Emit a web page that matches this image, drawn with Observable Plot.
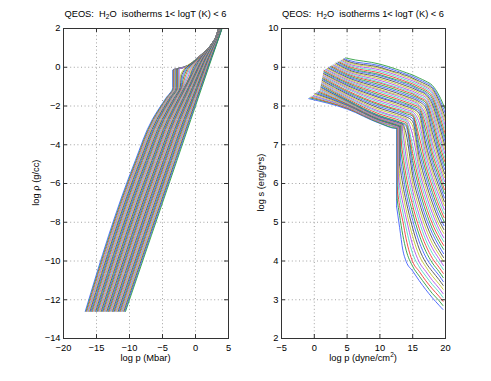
<!DOCTYPE html>
<html><head><meta charset="utf-8">
<script src="https://cdn.jsdelivr.net/npm/d3@7"></script>
<script src="https://cdn.jsdelivr.net/npm/@observablehq/plot@0.6"></script>
<style>
body{margin:0;background:#fff;}
#fig{position:relative;width:491px;height:381px;background:#fff;font-family:"Liberation Sans",Arial,Helvetica,sans-serif;color:#000;overflow:hidden;}
.t{position:absolute;font-size:9.3px;white-space:pre;text-align:center;line-height:1;}
.t sub{font-size:6.5px;vertical-align:-2px;line-height:0;}
.t sup{font-size:6.5px;vertical-align:4px;line-height:0;}
.p{position:absolute;top:0;}
</style></head><body><div id="fig"></div>
<script>
// ---------------- data ----------------
const logT = [1.0,1.1,1.2,1.3,1.4,1.5,1.6,1.7,1.8,1.9,2.0,2.1,2.2,2.3,2.4,2.5,2.6,2.7,2.8,2.9,3.0,3.1,3.2,3.3,3.4,3.5,3.6,3.7,3.8,3.9,4.0,4.1,4.2,4.3,4.4,4.5,4.6,4.7,4.8,4.9,5.0,5.1,5.2,5.3,5.4,5.5,5.6,5.7,5.8,5.9,6.0];
const colorOrder = ["#3f5fff","#2e9e3e","#f03a3a","#4fd8c0","#b050e8","#c4c830","#505050"];

// left panel: log p (Mbar) of each isotherm at these log rho levels
const rhoLevels = [-12.6,-4.8,-2.7,-1.6,-1.05,-0.5,0,0.5,1.1,1.6,2.0];
const pA = [-16.70,-16.58,-16.46,-16.33,-16.21,-16.09,-15.97,-15.85,-15.72,-15.60,-15.48,-15.36,-15.24,-15.11,-14.99,-14.87,-14.75,-14.63,-14.50,-14.38,-14.26,-14.14,-14.02,-13.89,-13.77,-13.65,-13.53,-13.41,-13.28,-13.16,-13.04,-12.92,-12.80,-12.67,-12.55,-12.43,-12.31,-12.19,-12.06,-11.94,-11.82,-11.70,-11.58,-11.45,-11.33,-11.21,-11.09,-10.97,-10.84,-10.72,-10.60];
const pB = [-9.10,-8.97,-8.85,-8.72,-8.60,-8.47,-8.34,-8.22,-8.09,-7.97,-7.84,-7.71,-7.59,-7.46,-7.34,-7.21,-7.08,-6.96,-6.83,-6.71,-6.58,-6.45,-6.33,-6.20,-6.08,-5.95,-5.82,-5.70,-5.57,-5.45,-5.32,-5.19,-5.07,-4.94,-4.82,-4.69,-4.56,-4.44,-4.31,-4.19,-4.06,-3.93,-3.81,-3.68,-3.56,-3.43,-3.30,-3.18,-3.05,-2.93,-2.80];
const pC = [-6.55,-6.43,-6.32,-6.20,-6.08,-5.97,-5.85,-5.73,-5.61,-5.50,-5.38,-5.26,-5.15,-5.03,-4.91,-4.80,-4.68,-4.56,-4.44,-4.33,-4.21,-4.09,-3.98,-3.86,-3.74,-3.63,-3.51,-3.39,-3.27,-3.16,-3.04,-2.92,-2.81,-2.69,-2.57,-2.46,-2.34,-2.22,-2.10,-1.99,-1.87,-1.75,-1.64,-1.52,-1.40,-1.29,-1.17,-1.05,-0.93,-0.82,-0.70];
const pD = [-4.50,-4.40,-4.30,-4.21,-4.11,-4.01,-3.91,-3.81,-3.72,-3.62,-3.52,-3.42,-3.32,-3.23,-3.13,-3.03,-2.93,-2.83,-2.74,-2.64,-2.54,-2.44,-2.34,-2.25,-2.15,-2.05,-1.95,-1.85,-1.76,-1.66,-1.56,-1.46,-1.36,-1.27,-1.17,-1.07,-0.97,-0.87,-0.78,-0.68,-0.58,-0.48,-0.38,-0.29,-0.19,-0.09,0.01,0.11,0.20,0.30,0.40];
const pE = [-3.45,-3.36,-3.27,-3.19,-3.10,-3.01,-2.92,-2.83,-2.75,-2.66,-2.57,-2.48,-2.39,-2.31,-2.22,-2.13,-2.04,-1.95,-1.87,-1.78,-1.69,-1.60,-1.51,-1.43,-1.34,-1.25,-1.16,-1.07,-0.99,-0.90,-0.81,-0.72,-0.63,-0.55,-0.46,-0.37,-0.28,-0.19,-0.11,-0.02,0.07,0.16,0.25,0.33,0.42,0.51,0.60,0.69,0.77,0.86,0.95];
const pF = [null,null,null,null,null,null,null,null,null,null,null,null,-2.31,-2.15,-1.97,-1.78,-1.58,-1.37,-1.15,-0.96,-0.86,-0.78,-0.70,-0.62,-0.54,-0.46,-0.39,-0.31,-0.23,-0.15,-0.07,0.01,0.09,0.16,0.24,0.32,0.40,0.48,0.56,0.64,0.71,0.79,0.87,0.95,1.03,1.11,1.19,1.26,1.34,1.42,1.50];
const pG = [-1.90,-1.87,-1.84,-1.81,-1.78,-1.75,-1.72,-1.69,-1.66,-1.63,-1.60,-1.57,-1.50,-1.35,-1.19,-1.04,-0.88,-0.73,-0.58,-0.44,-0.29,-0.15,-0.02,0.08,0.16,0.25,0.32,0.39,0.46,0.53,0.60,0.67,0.74,0.81,0.88,0.95,1.02,1.09,1.16,1.23,1.30,1.37,1.44,1.51,1.58,1.65,1.72,1.79,1.86,1.93,2.00];
const pH = [0.30,0.32,0.34,0.36,0.38,0.40,0.42,0.44,0.46,0.48,0.50,0.52,0.53,0.56,0.60,0.63,0.66,0.70,0.73,0.77,0.80,0.85,0.90,0.94,0.99,1.04,1.09,1.15,1.20,1.26,1.31,1.37,1.43,1.49,1.55,1.60,1.66,1.72,1.78,1.84,1.90,1.96,2.02,2.08,2.14,2.20,2.26,2.32,2.38,2.44,2.50];
const pI = [2.20,2.20,2.21,2.21,2.22,2.22,2.22,2.23,2.23,2.23,2.24,2.24,2.24,2.24,2.25,2.25,2.26,2.27,2.28,2.28,2.29,2.30,2.31,2.32,2.33,2.34,2.35,2.37,2.38,2.40,2.42,2.44,2.46,2.49,2.52,2.55,2.58,2.62,2.65,2.69,2.73,2.77,2.81,2.85,2.89,2.93,2.97,3.01,3.05,3.08,3.12];
const pJ = [3.12,3.12,3.12,3.12,3.12,3.13,3.13,3.13,3.13,3.13,3.13,3.13,3.13,3.14,3.14,3.15,3.15,3.16,3.16,3.17,3.17,3.18,3.18,3.19,3.20,3.20,3.21,3.22,3.23,3.24,3.25,3.26,3.28,3.29,3.31,3.32,3.34,3.36,3.39,3.41,3.44,3.46,3.49,3.51,3.53,3.56,3.57,3.58,3.60,3.61,3.62];
const pK = [3.43,3.43,3.43,3.44,3.44,3.44,3.45,3.45,3.45,3.46,3.46,3.46,3.47,3.47,3.48,3.49,3.50,3.50,3.51,3.52,3.53,3.54,3.55,3.56,3.57,3.58,3.59,3.60,3.62,3.63,3.64,3.66,3.68,3.69,3.71,3.73,3.75,3.77,3.79,3.81,3.83,3.86,3.88,3.91,3.93,3.96,3.97,3.98,3.99,4.00,4.02];
// liquid density reached at the phase jump (isotherms with a jump)
const jumpTopRho = [-0.14,-0.14,-0.13,-0.13,-0.12,-0.12,-0.11,-0.11,-0.10,-0.10,-0.09,-0.09];

// right panel: log s versus log p (dyne/cm2)
const rStartP = [-0.84,-0.67,-0.49,-0.32,-0.14,0.03,0.20,0.38,0.55,0.73,0.90,0.93,0.96,0.99,1.02,1.05,1.08,1.11,1.14,1.17,1.20,1.23,1.26,1.29,1.32,1.35,1.38,1.41,1.44,1.47,1.50,1.66,1.83,1.99,2.15,2.32,2.48,2.64,2.80,2.97,3.13,3.29,3.46,3.62,3.78,3.95,4.11,4.27,4.43,4.60,4.76];
const rStartS = [8.19,8.21,8.23,8.25,8.27,8.30,8.32,8.34,8.36,8.38,8.40,8.43,8.45,8.48,8.50,8.53,8.56,8.58,8.61,8.63,8.66,8.69,8.71,8.74,8.76,8.79,8.82,8.84,8.87,8.89,8.92,8.94,8.95,8.97,8.98,9.00,9.02,9.03,9.05,9.06,9.08,9.10,9.11,9.13,9.14,9.16,9.18,9.19,9.21,9.22,9.24];
const gridP = [5,10,12.5,13,13.5,14,15,16,17,18,19];
const rS5 = [7.92,7.94,7.95,7.97,7.98,8.00,8.02,8.03,8.05,8.06,8.08,8.10,8.11,8.13,8.14,8.16,8.19,8.22,8.25,8.28,8.31,8.34,8.37,8.40,8.44,8.47,8.50,8.53,8.56,8.59,8.62,8.65,8.68,8.71,8.74,8.77,8.80,8.83,8.86,8.89,8.92,8.95,8.98,9.01,9.04,9.07,9.10,9.13,9.16,9.19,9.23];
const rS10 = [7.55,7.56,7.58,7.59,7.60,7.62,7.63,7.64,7.65,7.67,7.68,7.69,7.71,7.72,7.73,7.75,7.79,7.83,7.86,7.90,7.94,7.98,8.02,8.05,8.09,8.13,8.17,8.21,8.24,8.28,8.32,8.36,8.40,8.43,8.47,8.51,8.55,8.59,8.62,8.66,8.70,8.74,8.78,8.81,8.85,8.89,8.93,8.97,9.00,9.04,9.08];
const rS125 = [7.42,7.43,7.45,7.46,7.47,7.49,7.50,7.51,7.52,7.54,7.55,7.56,7.58,7.59,7.60,7.62,7.66,7.70,7.73,7.77,7.81,7.85,7.89,7.92,7.96,8.00,8.04,8.08,8.11,8.15,8.19,8.23,8.27,8.30,8.34,8.38,8.42,8.46,8.49,8.53,8.57,8.61,8.65,8.68,8.72,8.76,8.80,8.84,8.87,8.91,8.95];
const rS13 = [4.87,5.18,5.43,5.69,5.95,6.22,7.47,7.48,7.49,7.51,7.52,7.53,7.55,7.56,7.57,7.59,7.63,7.67,7.71,7.74,7.78,7.82,7.86,7.90,7.93,7.97,8.01,8.05,8.09,8.12,8.16,8.20,8.24,8.28,8.31,8.35,8.39,8.43,8.47,8.50,8.54,8.58,8.62,8.66,8.69,8.73,8.77,8.81,8.85,8.88,8.92];
const rS135 = [4.28,4.66,5.02,5.26,5.49,5.73,5.96,6.22,6.48,6.74,7.00,7.30,7.50,7.53,7.54,7.56,7.60,7.64,7.67,7.71,7.75,7.79,7.83,7.86,7.90,7.94,7.98,8.02,8.05,8.09,8.13,8.17,8.21,8.24,8.28,8.32,8.36,8.40,8.43,8.47,8.51,8.55,8.59,8.62,8.66,8.70,8.74,8.78,8.81,8.85,8.89];
const rS14 = [3.99,4.28,4.57,4.85,5.11,5.32,5.54,5.75,5.97,6.20,6.45,6.69,6.95,7.28,7.47,7.52,7.57,7.61,7.65,7.68,7.72,7.76,7.80,7.84,7.87,7.91,7.95,7.99,8.03,8.06,8.10,8.14,8.18,8.22,8.25,8.29,8.33,8.37,8.41,8.44,8.48,8.52,8.56,8.60,8.63,8.67,8.71,8.75,8.79,8.82,8.86];
const rS15 = [3.74,3.86,3.98,4.19,4.41,4.63,4.85,5.05,5.24,5.43,5.62,5.81,6.00,6.20,6.39,6.59,6.78,6.98,7.25,7.48,7.60,7.68,7.74,7.77,7.81,7.85,7.89,7.93,7.96,8.00,8.04,8.08,8.12,8.15,8.19,8.23,8.27,8.31,8.34,8.38,8.42,8.46,8.50,8.53,8.57,8.61,8.65,8.69,8.72,8.76,8.80];
const rS16 = [3.49,3.61,3.73,3.85,3.97,4.14,4.31,4.49,4.67,4.84,5.02,5.18,5.35,5.52,5.68,5.85,6.02,6.18,6.35,6.51,6.68,6.84,7.01,7.20,7.40,7.56,7.70,7.80,7.86,7.91,7.96,8.00,8.03,8.07,8.11,8.15,8.19,8.22,8.26,8.30,8.34,8.38,8.41,8.45,8.49,8.53,8.57,8.60,8.64,8.68,8.72];
const rS17 = [3.26,3.38,3.49,3.61,3.73,3.85,3.96,4.10,4.25,4.40,4.54,4.69,4.84,4.99,5.13,5.28,5.43,5.58,5.73,5.88,6.03,6.18,6.32,6.47,6.61,6.76,6.90,7.02,7.18,7.35,7.51,7.64,7.75,7.85,7.95,8.02,8.08,8.13,8.17,8.22,8.26,8.30,8.33,8.37,8.41,8.45,8.49,8.52,8.56,8.60,8.64];
const rS18 = [3.05,3.16,3.28,3.39,3.50,3.61,3.73,3.84,3.95,4.07,4.20,4.33,4.45,4.58,4.71,4.83,4.96,5.09,5.23,5.36,5.50,5.64,5.77,5.91,6.04,6.16,6.29,6.41,6.54,6.66,6.79,6.91,7.04,7.18,7.31,7.45,7.57,7.68,7.79,7.88,7.97,8.05,8.12,8.19,8.25,8.31,8.36,8.41,8.45,8.49,8.53];
const rS19 = [2.86,2.98,3.09,3.20,3.30,3.41,3.52,3.63,3.73,3.84,3.95,4.06,4.17,4.28,4.39,4.50,4.61,4.72,4.83,4.94,5.06,5.18,5.31,5.43,5.55,5.68,5.80,5.92,6.04,6.16,6.27,6.38,6.49,6.60,6.71,6.82,6.93,7.05,7.17,7.29,7.41,7.52,7.62,7.71,7.81,7.90,8.00,8.07,8.14,8.21,8.28];
const rEndP = [19.60,19.61,19.62,19.62,19.63,19.64,19.65,19.66,19.66,19.67,19.68,19.69,19.70,19.70,19.71,19.72,19.73,19.74,19.74,19.75,19.76,19.77,19.78,19.78,19.79,19.80,19.81,19.82,19.82,19.83,19.84,19.85,19.86,19.86,19.87,19.88,19.89,19.90,19.90,19.91,19.92,19.93,19.94,19.94,19.95,19.96,19.97,19.98,19.98,19.99,20.00];
const rEndS = [2.75,2.85,2.96,3.06,3.16,3.27,3.37,3.47,3.57,3.68,3.78,3.88,3.99,4.09,4.19,4.30,4.40,4.50,4.60,4.71,4.81,4.91,5.02,5.12,5.22,5.33,5.43,5.53,5.63,5.74,5.84,5.94,6.05,6.15,6.25,6.36,6.46,6.56,6.66,6.77,6.87,6.97,7.08,7.18,7.28,7.39,7.49,7.59,7.69,7.80,7.90];
// phase jump (vapour -> liquid) of the cold isotherms
const jumpP  = [12.55,12.63,12.71,12.79,12.87,12.95,13.03,13.11,13.19,13.27,13.35,13.43];
const jumpSV = [7.42,7.43,7.44,7.45,7.45,7.47,7.47,7.48,7.49,7.50,7.51,7.52];
const jumpSL = [5.40,5.58,5.76,5.94,6.12,6.30,6.48,6.66,6.84,7.02,7.20,7.38];

const leftXTicks = [-20,-15,-10,-5,0,5];
const leftYTicks = [-14,-12,-10,-8,-6,-4,-2,0,2];
const rightXTicks = [-5,0,5,10,15,20];
const rightYTicks = [2,3,4,5,6,7,8,9,10];

// ---------------- build series ----------------
const leftCols = [pA,pB,pC,pD,pE,pF,pG,pH,pI,pJ,pK];
const leftData = [];
logT.forEach((t, i) => {
  rhoLevels.forEach((r, k) => {
    if (k === 5 && pF[i] === null) { leftData.push({i, p: pE[i], rho: jumpTopRho[i]}); return; }
    leftData.push({i, p: leftCols[k][i], rho: r});
  });
});

const gridCols = [rS5,rS10,rS125,rS13,rS135,rS14,rS15,rS16,rS17,rS18,rS19];
const rightData = [];
logT.forEach((t, i) => {
  const jp = i < jumpP.length ? jumpP[i] : null;
  let seg = "a";
  rightData.push({i, key: i + "a", p: rStartP[i], s: rStartS[i]});
  gridP.forEach((x, k) => {
    if (jp !== null && seg === "a" && x > jp) {
      rightData.push({i, key: i + "a", p: jp, s: jumpSV[i]});
      rightData.push({i, key: i + "j", p: jp, s: jumpSV[i]});
      rightData.push({i, key: i + "j", p: jp, s: jumpSL[i]});
      rightData.push({i, key: i + "b", p: jp, s: jumpSL[i]});
      seg = "b";
    }
    rightData.push({i, key: i + seg, p: x, s: gridCols[k][i]});
  });
  rightData.push({i, key: i + seg, p: rEndP[i], s: rEndS[i]});
});

// ---------------- plotting ----------------
const minus = d => (d < 0 ? "\u2212" + (-d) : String(d));
const FONT = '"Liberation Sans", Arial, Helvetica, sans-serif';

function panel({xDomain, yDomain, xTicks, yTicks, marks, marginLeft, marginRight}) {
  const W = 246, H = 381, mt = 28, mb = 43;
  const fw = W - marginLeft - marginRight, fh = H - mt - mb;
  return Plot.plot({
    width: W, height: H, marginLeft, marginRight, marginTop: mt, marginBottom: mb,
    style: {fontFamily: FONT, fontSize: "9.3px", background: "transparent", color: "#000"},
    x: {domain: xDomain, label: null},
    y: {domain: yDomain, label: null},
    color: {type: "identity"},
    marks: [
      Plot.gridX(xTicks, {stroke: "#8c8c8c", strokeOpacity: 1, strokeDasharray: "1,2.6", strokeWidth: 0.8}),
      Plot.gridY(yTicks, {stroke: "#8c8c8c", strokeOpacity: 1, strokeDasharray: "1,2.6", strokeWidth: 0.8}),
      ...marks,
      Plot.tickX(xTicks, {insetTop: fh - 4, stroke: "#333"}),
      Plot.tickX(xTicks, {insetBottom: fh - 4, stroke: "#333"}),
      Plot.tickY(yTicks, {insetRight: fw - 4, stroke: "#333"}),
      Plot.tickY(yTicks, {insetLeft: fw - 4, stroke: "#333"}),
      Plot.frame({stroke: "#333"}),
      Plot.axisX(xTicks, {tickSize: 0, tickPadding: 6, tickFormat: minus, label: null}),
      Plot.axisY(yTicks, {tickSize: 0, tickPadding: 3, tickFormat: minus, label: null})
    ]
  });
}

const left = panel({
  xDomain: [-20, 5], yDomain: [-14, 2], xTicks: leftXTicks, yTicks: leftYTicks,
  marginLeft: 63, marginRight: 18,
  marks: [Plot.line(leftData, {x: "p", y: "rho", z: "i", stroke: d => colorOrder[d.i % 7], strokeWidth: 0.9, curve: "monotone-y", clip: true})]
});
const right = panel({
  xDomain: [-5, 20], yDomain: [2, 10], xTicks: rightXTicks, yTicks: rightYTicks,
  marginLeft: 36, marginRight: 46,
  marks: [Plot.line(rightData, {x: "p", y: "s", z: "key", stroke: d => colorOrder[d.i % 7], strokeWidth: 0.9, curve: "monotone-x", clip: true})]
});

const fig = document.getElementById("fig");
left.classList.add("p"); left.style.left = "0px";
right.classList.add("p"); right.style.left = "245px";
fig.appendChild(left); fig.appendChild(right);

function addText(html, css) {
  const d = document.createElement("div");
  d.className = "t"; d.innerHTML = html;
  Object.assign(d.style, css);
  fig.appendChild(d);
}
const title = "QEOS:  H<sub>2</sub>O  isotherms 1&lt; logT (K) &lt; 6";
addText(title, {left: "63px", width: "165px", top: "10px"});
addText(title, {left: "281px", width: "164px", top: "10px"});
addText("log p (Mbar)", {left: "63px", width: "165px", top: "354px"});
addText("log p (dyne/cm<sup>2</sup>)", {left: "281px", width: "164px", top: "354px"});
addText("log \u03c1 (g/cc)", {left: "-63px", width: "200px", top: "178px", transform: "rotate(-90deg)", transformOrigin: "center"});
addText("log s (erg/g*s)", {left: "162px", width: "200px", top: "178px", transform: "rotate(-90deg)", transformOrigin: "center"});
</script></body></html>
